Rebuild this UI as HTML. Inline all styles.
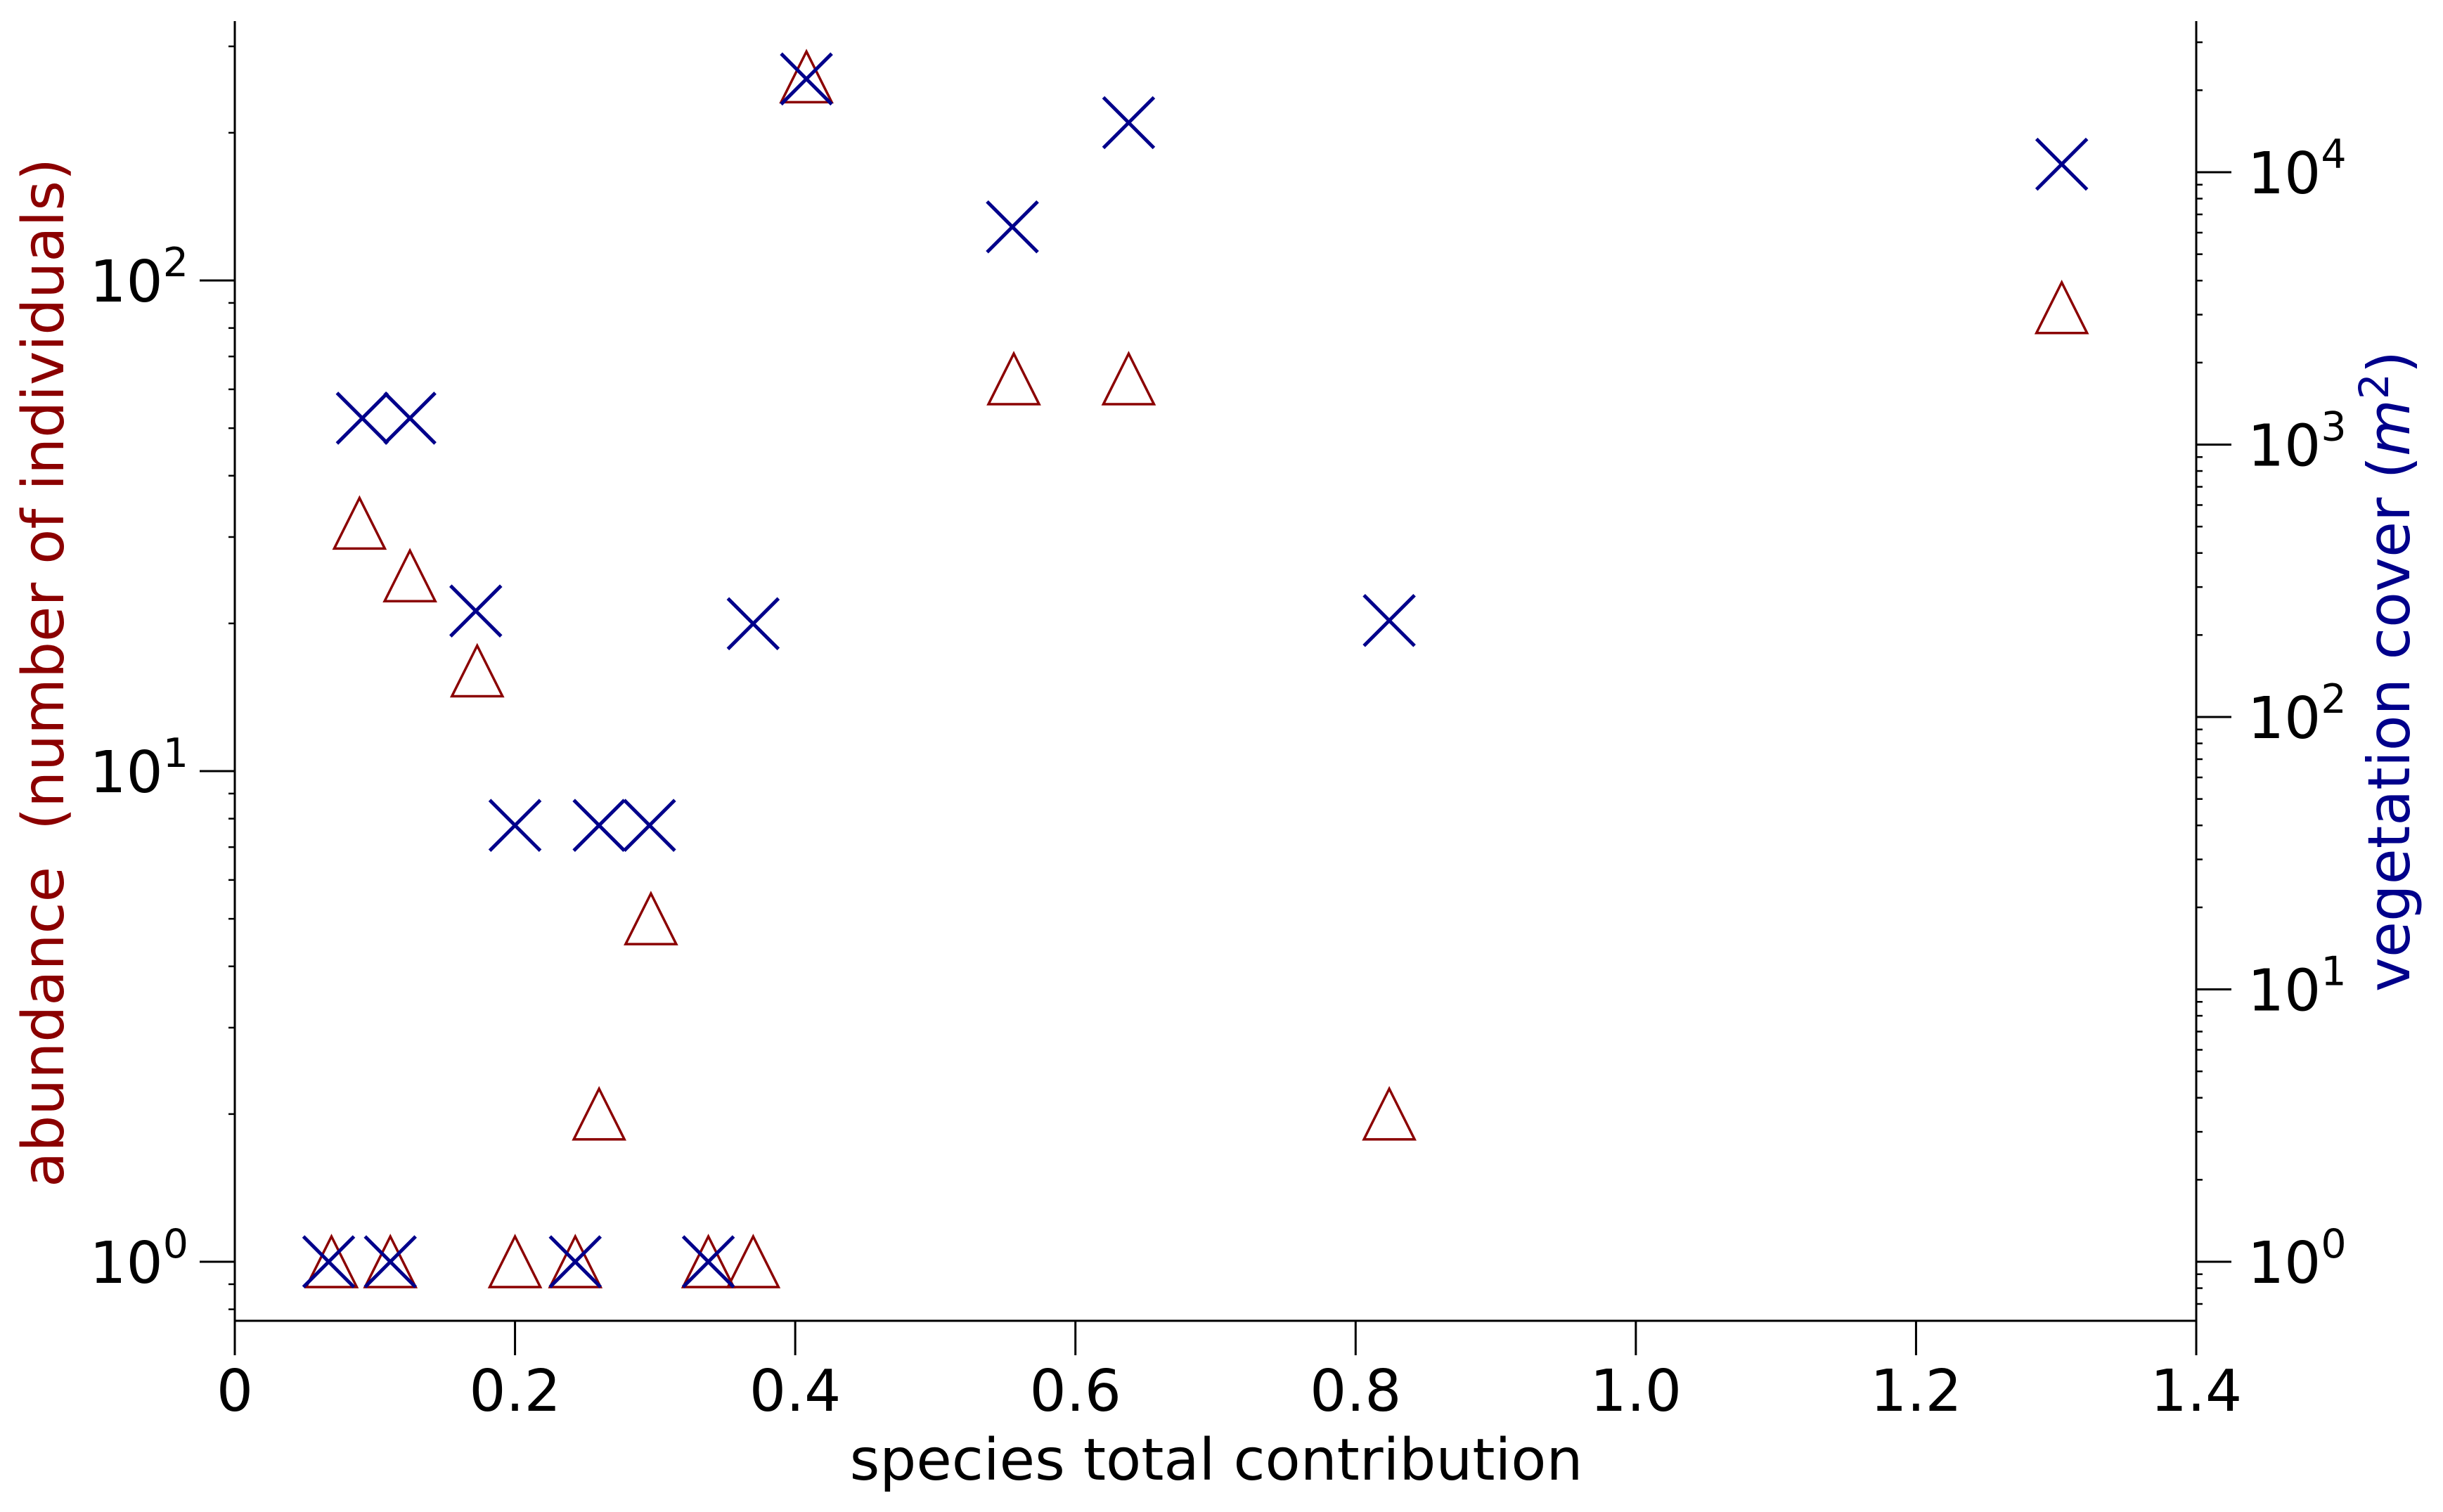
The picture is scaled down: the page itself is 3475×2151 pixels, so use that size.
<!DOCTYPE html>
<html><head><meta charset="utf-8"><style>
html,body{margin:0;padding:0;background:#fff;}
svg{display:block;font-family:"DejaVu Sans","Liberation Sans",sans-serif;}
</style></head><body>
<svg id="chart" width="3475" height="2151" viewBox="0 0 3475 2151">
<g id="axes"></g>
<g id="marks"></g>
<text x="1730" y="2105" font-size="82" text-anchor="middle" fill="#000">species total contribution</text>
<text transform="translate(90,957) rotate(-90)" font-size="82" text-anchor="middle" fill="#8b0000">abundance&#160; (number of individuals)</text>
<text transform="translate(3427,955) rotate(-90)" font-size="83" text-anchor="middle" fill="#00008b">vegetation cover (<tspan font-style="italic">m</tspan><tspan font-size="58" dy="-30">2</tspan><tspan dy="30">)</tspan></text>
</svg>
<script>
const xTicks = [0, 0.2, 0.4, 0.6, 0.8, 1.0, 1.2, 1.4];
const xTickLabels = ["0", "0.2", "0.4", "0.6", "0.8", "1.0", "1.2", "1.4"];
const leftDecades = [0, 1, 2];
const rightDecades = [0, 1, 2, 3, 4];
const abundX = [0.069, 0.111, 0.089, 0.125, 0.173, 0.2, 0.243, 0.26, 0.297, 0.338, 0.37, 0.408, 0.556, 0.638, 0.824, 1.304];
const abundY = [1, 1, 32, 25, 16, 1, 1, 2, 5, 1, 1, 260, 63, 63, 2, 88];
const vegX = [0.067, 0.111, 0.091, 0.125, 0.172, 0.2, 0.243, 0.26, 0.296, 0.338, 0.37, 0.408, 0.555, 0.638, 0.824, 1.304];
const vegY = [1, 1, 1250, 1250, 245, 40, 1, 40, 40, 1, 220, 22000, 6300, 15200, 226, 10700];

const NS = "http://www.w3.org/2000/svg";
const L = 334, R = 3124, T = 30, B = 1879;
const xS = v => L + (v / 1.4) * (R - L);
const yL = v => 1795 - Math.log10(v) * 698;
const yR = v => 1795 - Math.log10(v) * 387.5;
function mk(tag, attrs, parent) {
  const e = document.createElementNS(NS, tag);
  for (const k in attrs) e.setAttribute(k, attrs[k]);
  parent.appendChild(e);
  return e;
}
const ax = document.getElementById('axes');
const mg = document.getElementById('marks');
let e;
e = mk('line', {x1: L, y1: T, x2: L, y2: B, stroke: '#000', 'stroke-width': 3}, ax);


e = mk('line', {x1: R, y1: T, x2: R, y2: B, stroke: '#000', 'stroke-width': 3}, ax);


e = mk('line', {x1: L - 1.5, y1: B, x2: R + 1.5, y2: B, stroke: '#000', 'stroke-width': 3}, ax);



xTicks.forEach((t, i) => {
  const x = xS(t);
  let tk = mk('line', {x1: x, y1: B, x2: x, y2: B + 49, stroke: '#000', 'stroke-width': 3}, ax);
  
  
  let tx = mk('text', {x: x, y: 2007, 'font-size': 82, 'text-anchor': 'middle'}, ax);
  tx.textContent = xTickLabels[i];
  
  
});

function logAxis(decades, scale, side) {
  const x0 = side === 'left' ? L : R;
  const dir = side === 'left' ? -1 : 1;
  for (let k = -1; k <= 5; k++) {
    for (let m = 2; m <= 9; m++) {
      const y = scale(m * Math.pow(10, k));
      if (y < T || y > B) continue;
      let mt = mk('line', {x1: x0, y1: y, x2: x0 + dir * 9, y2: y, stroke: '#000', 'stroke-width': 2.5}, ax);
      
      
    }
  }
  decades.forEach(d => {
    const y = scale(Math.pow(10, d));
    let tk = mk('line', {x1: x0, y1: y, x2: x0 + dir * 50, y2: y, stroke: '#000', 'stroke-width': 3}, ax);
    
    
    let tx = mk('text', {x: side === 'left' ? 268 : 3197, y: y + 30, 'font-size': 82, 'text-anchor': side === 'left' ? 'end' : 'start'}, ax);
    
    
    const a = document.createElementNS(NS, 'tspan'); a.textContent = '10'; tx.appendChild(a);
    const b = document.createElementNS(NS, 'tspan'); b.setAttribute('dy', '-36'); b.setAttribute('font-size', '57'); b.textContent = String(d); tx.appendChild(b);
  });
}
logAxis(leftDecades, yL, 'left');
logAxis(rightDecades, yR, 'right');

abundX.forEach((v, i) => {
  const cx = xS(v), cy = yL(abundY[i]);
  let p = mk('polygon', {points: `${cx},${cy - 36} ${cx - 36},${cy + 36} ${cx + 36},${cy + 36}`, fill: 'none', stroke: '#8b0000', 'stroke-width': 3.5}, mg);
  
  
});
vegX.forEach((v, i) => {
  const cx = xS(v), cy = yR(vegY[i]);
  let p = mk('path', {d: `M${cx - 36},${cy - 36}L${cx + 36},${cy + 36}M${cx - 36},${cy + 36}L${cx + 36},${cy - 36}`, fill: 'none', stroke: '#00008b', 'stroke-width': 5}, mg);
  
  
});
</script>
</body></html>
